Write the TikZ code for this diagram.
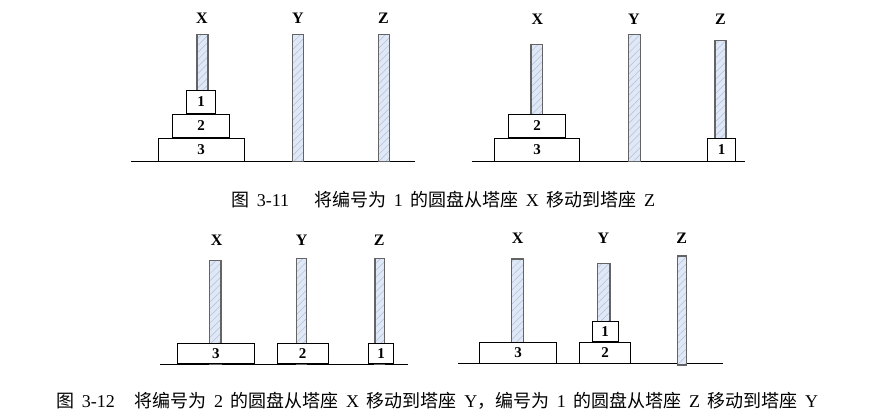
\documentclass[tikz,border=0pt]{standalone}
\usepackage{fontspec}
\setmainfont{Liberation Serif}
\newfontfamily\cjk{Noto Sans CJK SC}
\usetikzlibrary{patterns.meta}
\newcommand{\zh}[1]{{\cjk #1}}
\newcommand{\capfont}{\fontsize{18}{19}\selectfont\spaceskip=0.42em plus 0pt\relax}
\definecolor{pegfill}{RGB}{224,232,245}
\definecolor{pegline}{RGB}{172,192,222}
\definecolor{peggray}{RGB}{100,100,100}

\begin{document}
\begin{tikzpicture}[
  x=1pt,y=-1pt,
  peg/.style={preaction={fill=pegfill}, pattern={Lines[angle=45,distance=5pt,line width=0.5pt]}, pattern color=pegline, draw=peggray, line width=1.2pt},
  disk/.style={draw, fill=white, line width=0.8pt, anchor=south, inner sep=0pt, minimum height=23pt, font=\fontsize{15}{15}\selectfont\bfseries},
  small/.style={disk, minimum height=20.5pt},
  lbl/.style={font=\fontsize{16}{16}\selectfont\bfseries},
  base/.style={line width=0.8pt},
  captext/.style={anchor=west, inner sep=0pt, font=\capfont}
]
\useasboundingbox (0,0) rectangle (876,420);

% panel 1
\draw[base] (131,161.5) -- (415,161.5);
\draw[peg] (197,34.5) rectangle (208,161.5);
\draw[peg] (292.5,34.5) rectangle (303.5,161.5);
\draw[peg] (378.5,34.5) rectangle (389.5,161.5);
\node[disk, minimum width=86pt] (a3) at (201,161.5) {3};
\node[disk, minimum width=57.5pt] (a2) at (a3.north) {2};
\node[disk, minimum width=29pt] (a1) at (a2.north) {1};
\node[lbl] (ax) at (202,18) {X};
\node[lbl] (ay) at (298,18) {Y};
\node[lbl] (az) at (383.5,18) {Z};

% panel 2
\draw[base] (471.5,161.5) -- (745,161.5);
\draw[peg] (531,44.5) rectangle (542.5,161.5);
\draw[peg] (628.5,34.5) rectangle (640.5,161.5);
\draw[peg] (715,40.5) rectangle (726,161.5);
\node[disk, minimum width=85.7pt] (b3) at (537,161.5) {3};
\node[disk, minimum width=57.4pt] (b2) at (b3.north) {2};
\node[disk, minimum width=28.4pt] (b1) at (721.5,161.5) {1};
\node[lbl] (bx) at (537.5,19) {X};
\node[lbl] (by) at (634,19) {Y};
\node[lbl] (bz) at (720.5,19) {Z};

\node[captext] (cap1) at (231,200) {\zh{图} 3-11\hspace{1.4em}\zh{将编号为} 1 \zh{的圆盘从塔座} X \zh{移动到塔座} Z};

% panel 3
\draw[base] (160,364) -- (408.3,364);
\draw[peg] (209.3,260.7) rectangle (221,364);
\draw[peg] (296.7,258.3) rectangle (306.7,364);
\draw[peg] (375,258.3) rectangle (384.3,364);
\node[small, minimum width=77pt] (c3) at (215.8,364) {3};
\node[small, minimum width=51.3pt] (c2) at (302.6,364) {2};
\node[small, minimum width=25.7pt] (c1) at (381,364) {1};
\node[lbl] (cx) at (216.7,240.5) {X};
\node[lbl] (cy) at (301.7,240.5) {Y};
\node[lbl] (cz) at (379.3,240.5) {Z};

% panel 4
\draw[base] (458.3,363.3) -- (723.3,363.3);
\draw[peg] (511.7,259) rectangle (523.3,363.3);
\draw[peg] (597.7,263.3) rectangle (610,363.3);
\draw[peg] (677.3,256) rectangle (686.7,365);
\node[small, minimum width=77.4pt] (d3) at (518,363.3) {3};
\node[small, minimum width=51.7pt] (d2) at (605,363.3) {2};
\node[small, minimum width=26pt] (d1) at (d2.north) {1};
\node[lbl] (dx) at (517.7,238.3) {X};
\node[lbl] (dy) at (603.3,238.3) {Y};
\node[lbl] (dz) at (681.7,238.3) {Z};

\node[captext] (cap2) at (56,401) {\zh{图} 3-12\hspace{1.1em}\zh{将编号为} 2 \zh{的圆盘从塔座} X \zh{移动到塔座} Y\zh{，编号为} 1 \zh{的圆盘从塔座} Z \zh{移动到塔座} Y};

\end{tikzpicture}
\end{document}
